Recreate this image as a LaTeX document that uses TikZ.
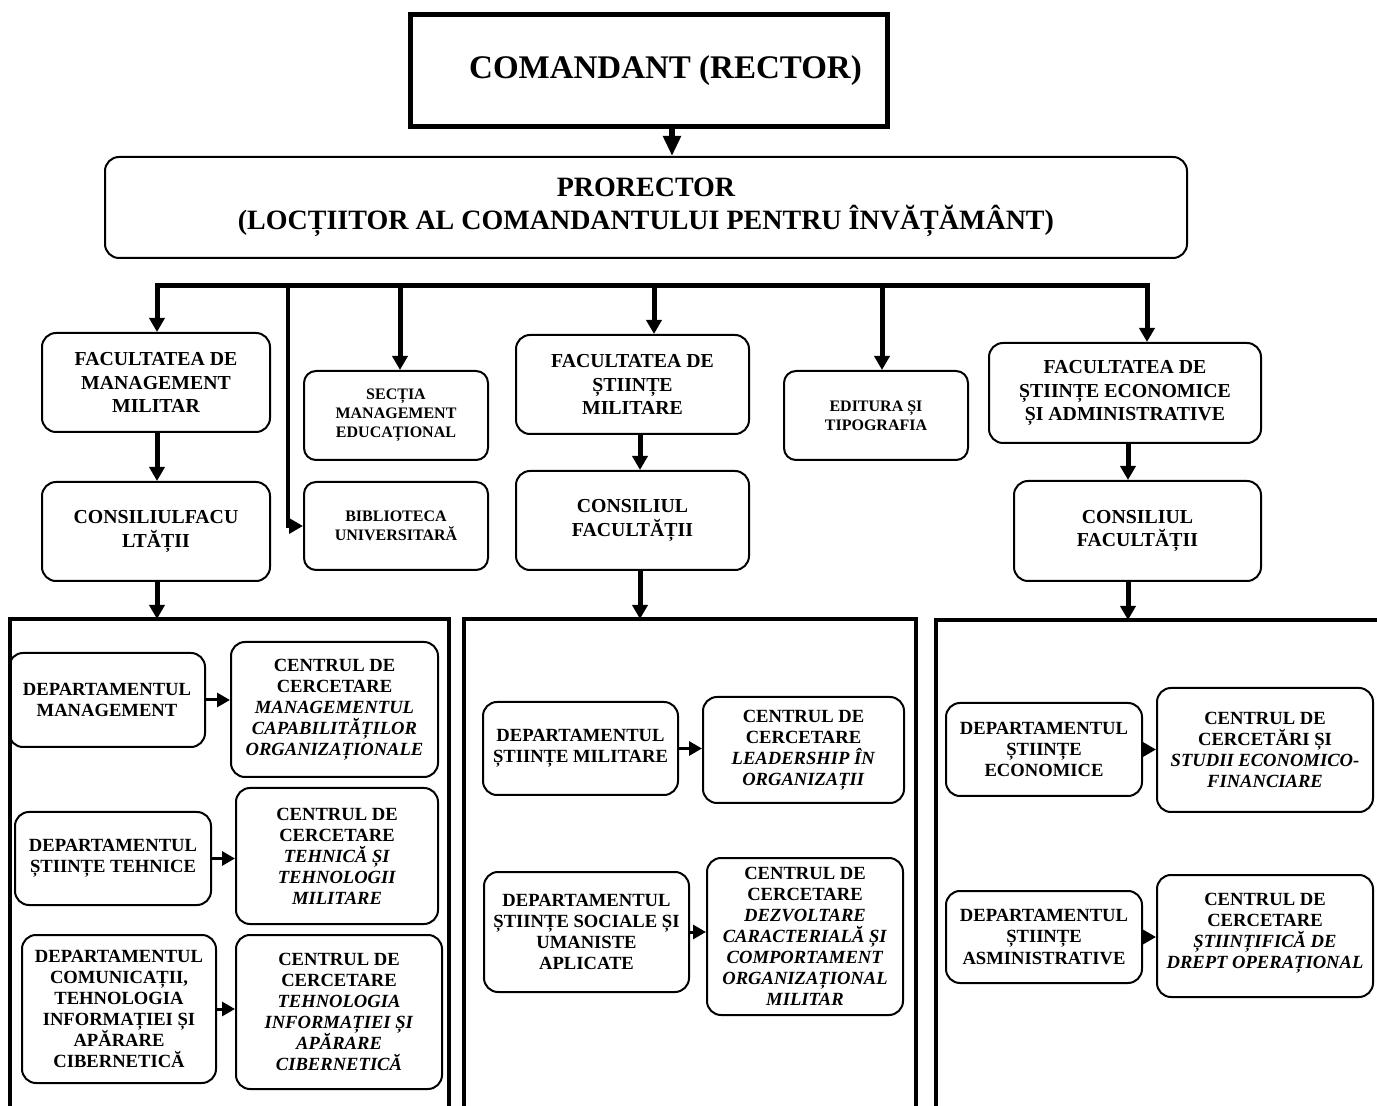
\documentclass[tikz,border=0pt]{standalone}
\usepackage{fontspec}
\setmainfont{Liberation Serif}
\usetikzlibrary{arrows.meta,positioning}

\begin{document}
\begin{tikzpicture}[x=0.5pt,y=-0.5pt,
    box/.style={draw, line width=1pt, rounded corners=7pt, align=center, inner sep=1pt,
        font=\bfseries\fontsize{9.9}{11.8}\selectfont},
    smallbox/.style={box, rounded corners=6pt, font=\bfseries\fontsize{8}{9.5}\selectfont},
    deptbox/.style={box, font=\bfseries\fontsize{9.3}{10.5}\selectfont},
    panel/.style={line width=2pt},
    bigarrow/.style={-{Triangle[length=7pt,width=7.5pt]}, line width=2.5pt},
    thinarrow/.style={-{Triangle[length=6.5pt,width=7pt]}, line width=1.5pt}]
    \useasboundingbox (0,0) rectangle (1377,1106);

    % top of the chart
    \node[draw, line width=2.5pt, minimum width=238.5pt, minimum height=56pt,
        font=\bfseries\fontsize{16.5}{19}\selectfont] (rector) at (648.5,71) {\hspace*{17pt}COMANDANT (RECTOR)};
    \node[box, minimum width=541pt, minimum height=50.5pt, font=\bfseries\fontsize{14}{16.5}\selectfont]
        (prorector) at (646,207.5) {PRORECTOR\\(LOCȚIITOR AL COMANDANTULUI PENTRU ÎNVĂȚĂMÂNT)};

    % second level
    \node[box, minimum width=114pt, minimum height=49.5pt] (facmm) at (156,382.5) {FACULTATEA DE\\MANAGEMENT\\MILITAR};
    \node[box, minimum width=114pt, minimum height=49.5pt] (consmm) at (156,531.5) {CONSILIULFACU\\LTĂȚII};
    \node[smallbox, minimum width=92pt, minimum height=44.5pt] (sectia) at (396,415.5) {SECȚIA\\MANAGEMENT\\EDUCAȚIONAL};
    \node[smallbox, minimum width=92pt, minimum height=44pt] (biblio) at (396,526) {BIBLIOTECA\\UNIVERSITARĂ};
    \node[box, minimum width=116.5pt, minimum height=49.5pt] (facsm) at (632.5,384.5) {FACULTATEA DE\\ȘTIINȚE\\MILITARE};
    \node[box, minimum width=116.5pt, minimum height=49.5pt] (conssm) at (632.5,520.5) {CONSILIUL\\FACULTĂȚII};
    \node[smallbox, minimum width=92pt, minimum height=44.5pt] (editura) at (876,415.5) {EDITURA ȘI\\TIPOGRAFIA};
    \node[box, minimum width=136pt, minimum height=50pt] (facse) at (1125,393) {FACULTATEA DE\\ȘTIINȚE ECONOMICE\\ȘI ADMINISTRATIVE};
    \node[box, minimum width=123.5pt, minimum height=50pt] (consse) at (1137.5,531) {CONSILIUL\\FACULTĂȚII};

    % panels
    \draw[panel] (10,1106) |- (449,619) -- (449,1106);
    \draw[panel] (464,1106) |- (916,619) -- (916,1106);
    \draw[panel] (936,1106) |- (1377,620);
    \coordinate (p1) at (157,619);
    \coordinate (p2) at (640,619);
    \coordinate (p3) at (1128,620);

    % departments and research centres
    \node[deptbox, minimum width=98pt, minimum height=47pt] (dm1) at (107,700) {DEPARTAMENTUL\\MANAGEMENT};
    \node[deptbox, minimum width=103.5pt, minimum height=67.5pt] (cc1) at (334.5,709.5)
        {CENTRUL DE\\CERCETARE\\\textit{MANAGEMENTUL}\\\textit{CAPABILITĂȚILOR}\\\textit{ORGANIZAȚIONALE}};
    \node[deptbox, minimum width=98pt, minimum height=46.5pt] (dm2) at (113,858.5) {DEPARTAMENTUL\\ȘTIINȚE TEHNICE};
    \node[deptbox, minimum width=101pt, minimum height=68pt] (cc2) at (337,856)
        {CENTRUL DE\\CERCETARE\\\textit{TEHNICĂ ȘI}\\\textit{TEHNOLOGII}\\\textit{MILITARE}};
    \node[deptbox, minimum width=97pt, minimum height=74pt] (dm3) at (119,1009)
        {DEPARTAMENTUL\\COMUNICAȚII,\\TEHNOLOGIA\\INFORMAȚIEI ȘI\\APĂRARE\\CIBERNETICĂ};
    \node[deptbox, minimum width=103pt, minimum height=77pt] (cc3) at (339,1012)
        {CENTRUL DE\\CERCETARE\\\textit{TEHNOLOGIA}\\\textit{INFORMAȚIEI ȘI}\\\textit{APĂRARE}\\\textit{CIBERNETICĂ}};

    \node[deptbox, minimum width=97.5pt, minimum height=46.5pt] (dm4) at (580.5,748.5) {DEPARTAMENTUL\\ȘTIINȚE MILITARE};
    \node[deptbox, minimum width=100.5pt, minimum height=53pt] (cc4) at (803.5,750)
        {CENTRUL DE\\CERCETARE\\\textit{LEADERSHIP ÎN}\\\textit{ORGANIZAȚII}};
    \node[deptbox, minimum width=102.5pt, minimum height=60pt] (dm5) at (586.5,932)
        {DEPARTAMENTUL\\ȘTIINȚE SOCIALE ȘI\\UMANISTE\\APLICATE};
    \node[deptbox, minimum width=98pt, minimum height=78.5pt] (cc5) at (805,936.5)
        {CENTRUL DE\\CERCETARE\\\textit{DEZVOLTARE}\\\textit{CARACTERIALĂ ȘI}\\\textit{COMPORTAMENT}\\\textit{ORGANIZAȚIONAL}\\\textit{MILITAR}};

    \node[deptbox, minimum width=98pt, minimum height=46.5pt] (dm6) at (1044,749.5) {DEPARTAMENTUL\\ȘTIINȚE\\ECONOMICE};
    \node[deptbox, minimum width=108pt, minimum height=62pt] (cc6) at (1265,750)
        {CENTRUL DE\\CERCETĂRI ȘI\\\textit{STUDII ECONOMICO-}\\\textit{FINANCIARE}};
    \node[deptbox, minimum width=98pt, minimum height=46pt] (dm7) at (1044,937) {DEPARTAMENTUL\\ȘTIINȚE\\ASMINISTRATIVE};
    \node[deptbox, minimum width=108pt, minimum height=61pt] (cc7) at (1265,936)
        {CENTRUL DE\\CERCETARE\\\textit{ȘTIINȚIFICĂ DE}\\\textit{DREPT OPERAȚIONAL}\\[-5pt]};

    % connectors
    \coordinate (r) at (672,127);
    \draw[-{Triangle[length=10pt,width=8.5pt]}, line width=3pt] (r) -- (r |- prorector.north);

    \coordinate (b1) at (157,286);
    \coordinate (b2) at (288,286);
    \coordinate (b3) at (400,286);
    \coordinate (b4) at (654,286);
    \coordinate (b5) at (882,286);
    \coordinate (b6) at (1147,286);
    \draw[line width=2.5pt, line cap=rect] (b1) -- (b6);
    \draw[bigarrow] (b1) -- (b1 |- facmm.north);
    \draw[bigarrow, line width=2pt] (b2) |- (biblio.west);
    \draw[bigarrow] (b3) -- (b3 |- sectia.north);
    \draw[bigarrow] (b4) -- (b4 |- facsm.north);
    \draw[bigarrow] (b5) -- (b5 |- editura.north);
    \draw[bigarrow] (b6) -- (b6 |- facse.north);

    \draw[bigarrow] (p1 |- facmm.south) -- (p1 |- consmm.north);
    \draw[bigarrow] (p2 |- facsm.south) -- (p2 |- conssm.north);
    \draw[bigarrow] (p3 |- facse.south) -- (p3 |- consse.north);
    \draw[bigarrow] (p1 |- consmm.south) -- (p1);
    \draw[bigarrow] (p2 |- conssm.south) -- (p2);
    \draw[bigarrow] (p3 |- consse.south) -- (p3);

    \draw[thinarrow] (dm1.east) -- (dm1.east -| cc1.west);
    \draw[thinarrow] (dm2.east) -- (dm2.east -| cc2.west);
    \draw[thinarrow] (dm3.east) -- (dm3.east -| cc3.west);
    \draw[thinarrow] (dm4.east) -- (dm4.east -| cc4.west);
    \draw[thinarrow] (dm5.east) -- (dm5.east -| cc5.west);
    \draw[thinarrow] (dm6.east) -- (dm6.east -| cc6.west);
    \draw[thinarrow] (dm7.east) -- (dm7.east -| cc7.west);
\end{tikzpicture}
\end{document}
